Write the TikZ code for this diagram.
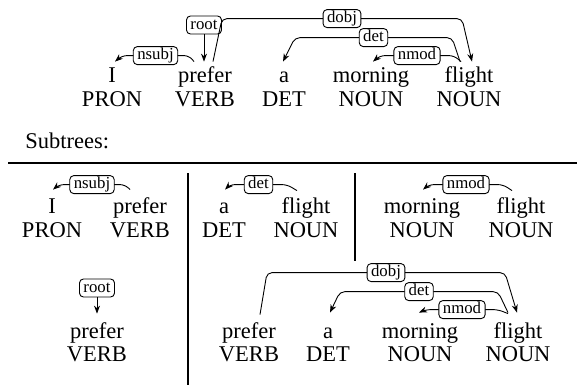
\documentclass[tikz,border=0pt]{standalone}
\usepackage{fontspec}
\setmainfont{Liberation Serif}
\usetikzlibrary{arrows.meta,calc}
\newcommand{\wordfont}{\fontsize{11.25}{13}\selectfont}
\newcommand{\lblfont}{\fontsize{8.4}{10}\selectfont}

\begin{document}
\begin{tikzpicture}[x=0.5pt, y=-0.5pt,
    word/.style={font=\wordfont, anchor=base, inner sep=0pt, text height=8pt},
    tag/.style={font=\wordfont, anchor=base, inner sep=0pt},
    lbl/.style={draw, fill=white, rounded corners=2pt, font=\lblfont,
                inner xsep=2pt, inner ysep=0.6pt, text height=6pt, text depth=1.8pt,
                line width=0.45pt},
    dep/.style={-{Stealth[length=4pt,width=3pt]}, line width=0.45pt, rounded corners=2.5pt},
    sep/.style={line width=0.7pt}
  ]
  \useasboundingbox (0,0) rectangle (577,385);

  % full sentence
  \node[word] (i)    at (112,83) {I};
  \node[word] (pref) at (205,83) {prefer};
  \node[word] (a)    at (284,83) {a};
  \node[word] (morn) at (371,83) {morning};
  \node[word] (flt)  at (469,83) {flight};
  \node[tag] (iP)    at (112,106) {PRON};
  \node[tag] (prefP) at (205,106) {VERB};
  \node[tag] (aP)    at (284,106) {DET};
  \node[tag] (mornP) at (371,106) {NOUN};
  \node[tag] (fltP)  at (469,106) {NOUN};

  \node[lbl] (rt) at (204,25) {root};
  \draw[dep] (rt.south) -- ($(pref.north)+(-1,-5)$);
  \draw[dep] ($(pref.north)+(-11,-5)$) -- ($(pref.north)+(-16,-11)$)
    -- node[lbl] {nsubj} ($(i.north)+(10,-11)$) -- ($(i.north)+(3,-5)$);
  \draw[dep] ($(pref.north)+(8,-5)$) -- ($(pref.north)+(17,-48)$)
    -- node[lbl] {dobj} ($(flt.north)+(-7,-48)$) -- ($(flt.north)+(3,-5)$);
  \draw[dep] ($(flt.north)+(-9,-5)$) -- ($(flt.north)+(-17,-29)$)
    -- node[lbl] {det} ($(a.north)+(11,-29)$) -- ($(a.north)+(-1,-5)$);
  \draw[dep] ($(flt.north)+(-8,-5)$) -- ($(flt.north)+(-15,-11)$)
    -- node[lbl] {nmod} ($(morn.north)+(9,-11)$) -- ($(morn.north)+(2,-5)$);

  \node[tag, anchor=base west] (sub) at (25,148) {Subtrees:};
  \draw[sep] (8,163) -- (577,163);
  \draw[sep] (188,173) -- (188,385);
  \draw[sep] (355,173) -- (355,261);

  % nsubj
  \node[word] (nsI)    at (52,213) {I};
  \node[word] (nsPref) at (140,213) {prefer};
  \node[tag] (nsIP)    at (52,237) {PRON};
  \node[tag] (nsPrefP) at (140,237) {VERB};
  \draw[dep] ($(nsPref.north)+(-10,-7)$) -- ($(nsPref.north)+(-15,-12)$)
    -- node[lbl] {nsubj} ($(nsI.north)+(7,-12)$) -- ($(nsI.north)+(1,-7)$);

  % det
  \node[word] (dtA)   at (224,213) {a};
  \node[word] (dtFlt) at (306,213) {flight};
  \node[tag] (dtAP)   at (224,237) {DET};
  \node[tag] (dtFltP) at (306,237) {NOUN};
  \draw[dep] ($(dtFlt.north)+(-9,-6)$) -- ($(dtFlt.north)+(-19,-12)$)
    -- node[lbl] {det} ($(dtA.north)+(6,-12)$) -- ($(dtA.north)+(1,-7)$);

  % nmod
  \node[word] (nmMorn) at (422,213) {morning};
  \node[word] (nmFlt)  at (521,213) {flight};
  \node[tag] (nmMornP) at (422,237) {NOUN};
  \node[tag] (nmFltP)  at (521,237) {NOUN};
  \draw[dep] ($(nmFlt.north)+(-9,-6)$) -- ($(nmFlt.north)+(-18,-12)$)
    -- node[lbl] {nmod} ($(nmMorn.north)+(7,-12)$) -- ($(nmMorn.north)+(1,-7)$);

  % root
  \node[word] (rtPref) at (97,338) {prefer};
  \node[tag] (rtPrefP) at (97,361) {VERB};
  \node[lbl] (rtLbl) at (97,288) {root};
  \draw[dep] (rtLbl.south) -- ($(rtPref.north)+(0,-8)$);

  % dobj subtree
  \node[word] (obPref) at (249,338) {prefer};
  \node[word] (obA)    at (328,338) {a};
  \node[word] (obMorn) at (420,338) {morning};
  \node[word] (obFlt)  at (518,338) {flight};
  \node[tag] (obPrefP) at (249,361) {VERB};
  \node[tag] (obAP)    at (328,361) {DET};
  \node[tag] (obMornP) at (420,361) {NOUN};
  \node[tag] (obFltP)  at (518,361) {NOUN};
  \draw[dep] ($(obPref.north)+(11,-7)$) -- ($(obPref.north)+(18,-49)$)
    -- node[lbl] {dobj} ($(obFlt.north)+(-13,-49)$) -- ($(obFlt.north)+(-1,-9)$);
  \draw[dep] ($(obFlt.north)+(-10,-9)$) -- ($(obFlt.north)+(-20,-30)$)
    -- node[lbl] {det} ($(obA.north)+(12,-30)$) -- ($(obA.north)+(2,-9)$);
  \draw[dep] ($(obFlt.north)+(-10,-8)$) -- ($(obFlt.north)+(-20,-12)$)
    -- node[lbl] {nmod} ($(obMorn.north)+(6,-12)$) -- ($(obMorn.north)+(-1,-9)$);
\end{tikzpicture}
\end{document}
